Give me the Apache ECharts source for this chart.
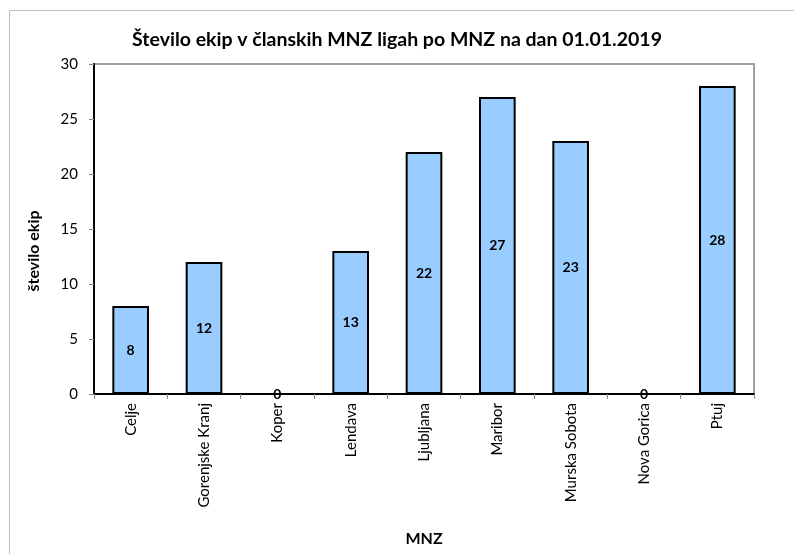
<!DOCTYPE html>
<html>
<head>
<meta charset="utf-8">
<script src="https://cdn.jsdelivr.net/npm/echarts@6/dist/echarts.min.js"></script>
<style>
html,body{margin:0;padding:0;background:#fff;}
#chart{width:794px;height:554px;}
</style>
</head>
<body>
<div id="chart"></div>
<script>
const categories = ['Celje','Gorenjske Kranj','Koper','Lendava','Ljubljana','Maribor','Murska Sobota','Nova Gorica','Ptuj'];
const values = [8, 12, 0, 13, 22, 27, 23, 0, 28];
const yTicks = [0, 5, 10, 15, 20, 25, 30];

const FONT = 'Lato, "Open Sans", sans-serif';
const chart = echarts.init(document.getElementById('chart'), null, {renderer:'canvas'});
chart.setOption({
  animation: false,
  backgroundColor: '#fff',
  title: {
    text: 'Število ekip v članskih MNZ ligah po MNZ na dan 01.01.2019',
    left: 'center', top: 25,
    textStyle: {fontFamily: FONT, fontSize: 19.5, fontWeight: 'bold', color: '#000'}
  },
  graphic: [{
    type: 'rect', shape: {x: 9.5, y: 10.5, width: 800, height: 600},
    style: {fill: 'none', stroke: '#bdbdbd', lineWidth: 1}, silent: true
  }],
  grid: {left: 94, right: 40, top: 64, bottom: 160, show: true, borderColor: '#a0a0a0', borderWidth: 2, backgroundColor: 'transparent'},
  xAxis: {
    type: 'category', data: categories,
    name: 'MNZ', nameLocation: 'middle', nameGap: 137,
    nameTextStyle: {fontFamily: FONT, fontSize: 16, fontWeight: 'bold', color: '#000'},
    axisLine: {lineStyle: {color: '#000', width: 2}},
    axisTick: {show: true, length: 5, lineStyle: {color: '#888'}},
    axisLabel: {rotate: 90, fontFamily: FONT, fontSize: 15, color: '#000', margin: 9, interval: 0}
  },
  yAxis: {
    type: 'value', min: yTicks[0], max: yTicks[yTicks.length-1], interval: 5,
    name: 'število ekip', nameLocation: 'middle', nameGap: 52,
    nameTextStyle: {fontFamily: FONT, fontSize: 16, fontWeight: 'bold', color: '#000', padding: [0, 44, 0, 0]},
    axisLine: {show: true, lineStyle: {color: '#000', width: 2}},
    axisTick: {show: true, length: 5, lineStyle: {color: '#888'}},
    splitLine: {show: false},
    axisLabel: {fontFamily: FONT, fontSize: 15, color: '#000', margin: 16}
  },
  series: [{
    type: 'bar', data: values, barWidth: '50%',
    itemStyle: {color: '#99CCFF', borderColor: '#000', borderWidth: 2},
    label: {show: true, position: 'inside', fontFamily: FONT, fontSize: 14, fontWeight: 'bold', color: '#000'}
  }]
});
</script>
</body>
</html>
